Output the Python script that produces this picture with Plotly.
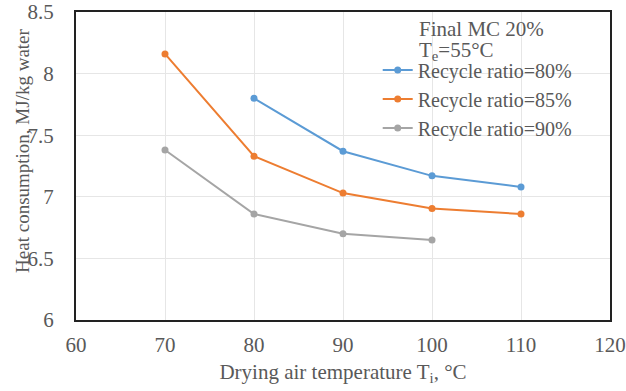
import plotly.graph_objects as go

x_80 = [80, 90, 100, 110]
y_80 = [7.80, 7.37, 7.17, 7.08]
x_85 = [70, 80, 90, 100, 110]
y_85 = [8.16, 7.33, 7.03, 6.905, 6.86]
x_90 = [70, 80, 90, 100]
y_90 = [7.38, 6.86, 6.70, 6.65]

names = ["Recycle ratio=80%", "Recycle ratio=85%", "Recycle ratio=90%"]
colors = ["#5B9BD5", "#ED7D31", "#A5A5A5"]

font = "Liberation Serif, Times New Roman, serif"
tc = "#595959"
fs = 21

fig = go.Figure()
for xs, ys, n, c in zip([x_80, x_85, x_90], [y_80, y_85, y_90], names, colors):
    fig.add_trace(go.Scatter(x=xs, y=ys, name=n, mode="lines+markers",
                             line=dict(color=c, width=2),
                             marker=dict(color=c, size=7)))

fig.update_layout(
    width=626, height=391,
    margin=dict(l=76, r=16, t=12, b=71, autoexpand=False),
    paper_bgcolor="white", plot_bgcolor="white",
    font=dict(family=font, size=fs, color=tc),
    legend=dict(x=0.565, y=0.875, xanchor="left", yanchor="top",
                bgcolor="rgba(0,0,0,0)", font=dict(size=20, color=tc),
                itemwidth=30, tracegroupgap=0),
    xaxis=dict(range=[60, 120], dtick=10, showgrid=True, gridcolor="#E6E6E6",
               showline=True, mirror=True, linecolor="#222222", linewidth=2,
               zeroline=False, ticks="", automargin=False, ticklabelstandoff=5,
               ticklabeloverflow="allow",
               title=dict(text="Drying air temperature T<sub>i</sub>, °C",
                          font=dict(size=fs, color=tc), standoff=8),
               tickfont=dict(size=fs, color=tc)),
    yaxis=dict(range=[6, 8.5], dtick=0.5, showgrid=True, gridcolor="#E6E6E6",
               showline=True, mirror=True, linecolor="#222222", linewidth=2,
               zeroline=False, ticks="", automargin=False, ticklabelstandoff=16,
               ticklabeloverflow="allow",
               tickfont=dict(size=fs, color=tc)),
)
fig.add_annotation(text="Heat consumption, MJ/kg water", xref="paper", yref="paper",
                   x=(23 - 76) / 534, y=0.549, xanchor="center", yanchor="middle",
                   textangle=-90, showarrow=False, font=dict(size=19, color=tc))
fig.add_annotation(text="Final MC 20%", xref="paper", yref="paper",
                   x=0.638, y=0.945, xanchor="left", yanchor="middle",
                   showarrow=False, font=dict(size=fs, color=tc))
fig.add_annotation(text="T<sub>e</sub>=55°C", xref="paper", yref="paper",
                   x=0.638, y=0.872, xanchor="left", yanchor="middle",
                   showarrow=False, font=dict(size=fs, color=tc))

fig.write_html("out.html")
